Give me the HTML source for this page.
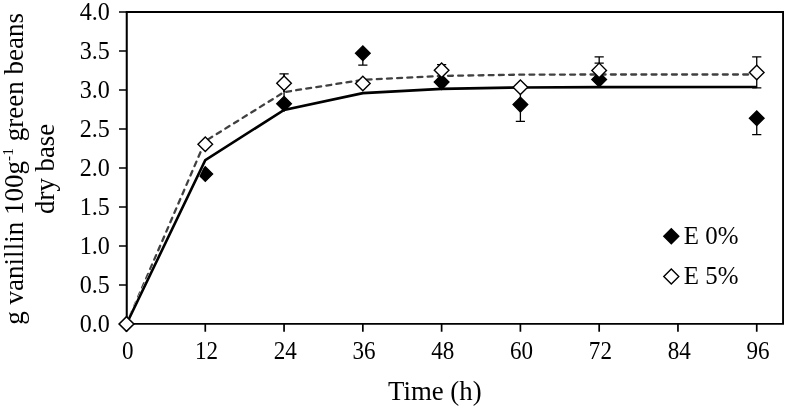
<!DOCTYPE html><html><head><meta charset="utf-8"><title>chart</title><style>html,body{margin:0;padding:0;background:#fff}svg{display:block;will-change:transform}text{font-family:"Liberation Serif",serif;fill:#000}</style></head><body>
<svg width="786" height="408" viewBox="0 0 786 408">
<rect width="786" height="408" fill="#fff"/>
<path d="M125.75,12.0 H784.00 M125.75,323.9 H784.00" fill="none" stroke="#000" stroke-width="1.8"/>
<path d="M126.75,12.0 V323.9" fill="none" stroke="#000" stroke-width="2.05"/>
<path d="M783.05,12.0 V323.9" fill="none" stroke="#000" stroke-width="1.9"/>
<path d="M119,324.00 H126.5 M119,285.00 H126.5 M119,246.00 H126.5 M119,207.00 H126.5 M119,168.00 H126.5 M119,129.00 H126.5 M119,90.00 H126.5 M119,51.00 H126.5 M119,12.00 H126.5 M126.50,324.0 V331.7 M205.28,324.0 V331.7 M284.06,324.0 V331.7 M362.84,324.0 V331.7 M441.62,324.0 V331.7 M520.40,324.0 V331.7 M599.18,324.0 V331.7 M677.96,324.0 V331.7 M756.74,324.0 V331.7 " stroke="#000" stroke-width="1.7" fill="none"/>
<text transform="translate(109.9,331.90) scale(1,1.03)" font-size="24.1" text-anchor="end">0.0</text>
<text transform="translate(109.9,292.90) scale(1,1.03)" font-size="24.1" text-anchor="end">0.5</text>
<text transform="translate(109.9,253.90) scale(1,1.03)" font-size="24.1" text-anchor="end">1.0</text>
<text transform="translate(109.9,214.90) scale(1,1.03)" font-size="24.1" text-anchor="end">1.5</text>
<text transform="translate(109.9,175.90) scale(1,1.03)" font-size="24.1" text-anchor="end">2.0</text>
<text transform="translate(109.9,136.90) scale(1,1.03)" font-size="24.1" text-anchor="end">2.5</text>
<text transform="translate(109.9,97.90) scale(1,1.03)" font-size="24.1" text-anchor="end">3.0</text>
<text transform="translate(109.9,58.90) scale(1,1.03)" font-size="24.1" text-anchor="end">3.5</text>
<text transform="translate(109.9,19.90) scale(1,1.03)" font-size="24.1" text-anchor="end">4.0</text>
<text transform="translate(127.70,358.5) scale(1,1.045)" font-size="23.1" text-anchor="middle">0</text>
<text transform="translate(206.48,358.5) scale(1,1.045)" font-size="23.1" text-anchor="middle">12</text>
<text transform="translate(285.26,358.5) scale(1,1.045)" font-size="23.1" text-anchor="middle">24</text>
<text transform="translate(364.04,358.5) scale(1,1.045)" font-size="23.1" text-anchor="middle">36</text>
<text transform="translate(442.82,358.5) scale(1,1.045)" font-size="23.1" text-anchor="middle">48</text>
<text transform="translate(521.60,358.5) scale(1,1.045)" font-size="23.1" text-anchor="middle">60</text>
<text transform="translate(600.38,358.5) scale(1,1.045)" font-size="23.1" text-anchor="middle">72</text>
<text transform="translate(679.16,358.5) scale(1,1.045)" font-size="23.1" text-anchor="middle">84</text>
<text transform="translate(757.94,358.5) scale(1,1.045)" font-size="23.1" text-anchor="middle">96</text>
<text x="434.8" y="400.0" font-size="26.8" text-anchor="middle">Time (h)</text>
<text transform="translate(23.2,168.8) rotate(-90)" font-size="27.05" text-anchor="middle">g vanillin 100g<tspan font-size="15.5" dy="-10">-1</tspan><tspan dy="10"> green beans</tspan></text>
<text transform="translate(54,168.9) rotate(-90)" font-size="26.8" text-anchor="middle">dry base</text>
<path d="M284.06,90.00 V97.00" fill="none" stroke="#000" stroke-width="1.3"/>
<path d="M362.84,53.00 V65.20 M358.24,65.20 H367.44" fill="none" stroke="#000" stroke-width="1.3"/>
<path d="M520.40,90.00 V121.40 M515.80,121.40 H525.00" fill="none" stroke="#000" stroke-width="1.3"/>
<path d="M599.18,63.20 V75.00 M594.58,63.20 H603.78" fill="none" stroke="#000" stroke-width="1.3"/>
<path d="M756.74,118.00 V134.70 M752.14,134.70 H761.34" fill="none" stroke="#000" stroke-width="1.3"/>
<path d="M284.06,73.80 V92.00" fill="none" stroke="#000" stroke-width="1.3"/>
<polyline points="126.50,324.00 205.28,141.09 284.06,92.11 362.84,79.86 441.62,75.96 520.40,74.63 599.18,74.48 756.74,74.48" fill="none" stroke="#404040" stroke-width="2.3" stroke-linecap="round" stroke-dasharray="4.90 5.28" stroke-dashoffset="1.19" stroke-linejoin="round"/>
<path d="M126.50,316.70 L133.80,324.00 L126.50,331.30 L119.20,324.00 Z" fill="#000" stroke="#000" stroke-width="1.4" stroke-linejoin="miter"/>
<path d="M205.28,166.78 L212.58,174.08 L205.28,181.38 L197.98,174.08 Z" fill="#000" stroke="#000" stroke-width="1.4" stroke-linejoin="miter"/>
<path d="M284.06,96.51 L291.36,103.81 L284.06,111.11 L276.76,103.81 Z" fill="#000" stroke="#000" stroke-width="1.4" stroke-linejoin="miter"/>
<path d="M362.84,45.88 L370.14,53.18 L362.84,60.48 L355.54,53.18 Z" fill="#000" stroke="#000" stroke-width="1.4" stroke-linejoin="miter"/>
<path d="M441.62,74.82 L448.92,82.12 L441.62,89.42 L434.32,82.12 Z" fill="#000" stroke="#000" stroke-width="1.4" stroke-linejoin="miter"/>
<path d="M520.40,97.29 L527.70,104.59 L520.40,111.89 L513.10,104.59 Z" fill="#000" stroke="#000" stroke-width="1.4" stroke-linejoin="miter"/>
<path d="M599.18,72.17 L606.48,79.47 L599.18,86.77 L591.88,79.47 Z" fill="#000" stroke="#000" stroke-width="1.4" stroke-linejoin="miter"/>
<path d="M756.74,110.94 L764.04,118.24 L756.74,125.54 L749.44,118.24 Z" fill="#000" stroke="#000" stroke-width="1.4" stroke-linejoin="miter"/>
<polyline points="126.50,324.00 205.28,160.20" fill="none" stroke="#fff" stroke-width="3.2"/>
<polyline points="126.50,324.00 205.28,160.20 284.06,109.89 362.84,93.12 441.62,88.91 520.40,87.43 599.18,87.11 756.74,87.04" fill="none" stroke="#000" stroke-width="2.6" stroke-linejoin="miter"/>
<path d="M284.06,73.80 V92.00 M279.46,73.80 H288.66" fill="none" stroke="#000" stroke-width="1.3"/>
<path d="M441.62,64.70 V75.70 M437.02,64.70 H446.22" fill="none" stroke="#000" stroke-width="1.3"/>
<path d="M599.18,56.80 V70.00 M594.58,56.80 H603.78" fill="none" stroke="#000" stroke-width="1.3"/>
<path d="M756.74,56.80 V87.80 M752.14,56.80 H761.34 M752.14,87.80 H761.34" fill="none" stroke="#000" stroke-width="1.3"/>
<path d="M126.50,316.70 L133.80,324.00 L126.50,331.30 L119.20,324.00 Z" fill="#fff" stroke="#000" stroke-width="1.4" stroke-linejoin="miter"/>
<path d="M205.28,136.91 L212.58,144.21 L205.28,151.51 L197.98,144.21 Z" fill="#fff" stroke="#000" stroke-width="1.4" stroke-linejoin="miter"/>
<path d="M284.06,75.99 L291.36,83.29 L284.06,90.59 L276.76,83.29 Z" fill="#fff" stroke="#000" stroke-width="1.4" stroke-linejoin="miter"/>
<path d="M362.84,76.15 L370.14,83.45 L362.84,90.75 L355.54,83.45 Z" fill="#fff" stroke="#000" stroke-width="1.4" stroke-linejoin="miter"/>
<path d="M441.62,62.89 L448.92,70.19 L441.62,77.49 L434.32,70.19 Z" fill="#fff" stroke="#000" stroke-width="1.4" stroke-linejoin="miter"/>
<path d="M520.40,79.97 L527.70,87.27 L520.40,94.57 L513.10,87.27 Z" fill="#fff" stroke="#000" stroke-width="1.4" stroke-linejoin="miter"/>
<path d="M599.18,63.12 L606.48,70.42 L599.18,77.72 L591.88,70.42 Z" fill="#fff" stroke="#000" stroke-width="1.4" stroke-linejoin="miter"/>
<path d="M756.74,65.23 L764.04,72.53 L756.74,79.83 L749.44,72.53 Z" fill="#fff" stroke="#000" stroke-width="1.4" stroke-linejoin="miter"/>
<path d="M671.30,228.80 L678.80,236.30 L671.30,243.80 L663.80,236.30 Z" fill="#000" stroke="#000" stroke-width="1.4" stroke-linejoin="miter"/>
<path d="M671.30,268.90 L678.80,276.40 L671.30,283.90 L663.80,276.40 Z" fill="#fff" stroke="#000" stroke-width="1.4" stroke-linejoin="miter"/>
<text x="683.8" y="243.9" font-size="24.9">E 0%</text>
<text x="683.8" y="284.0" font-size="24.9">E 5%</text>
</svg></body></html>
